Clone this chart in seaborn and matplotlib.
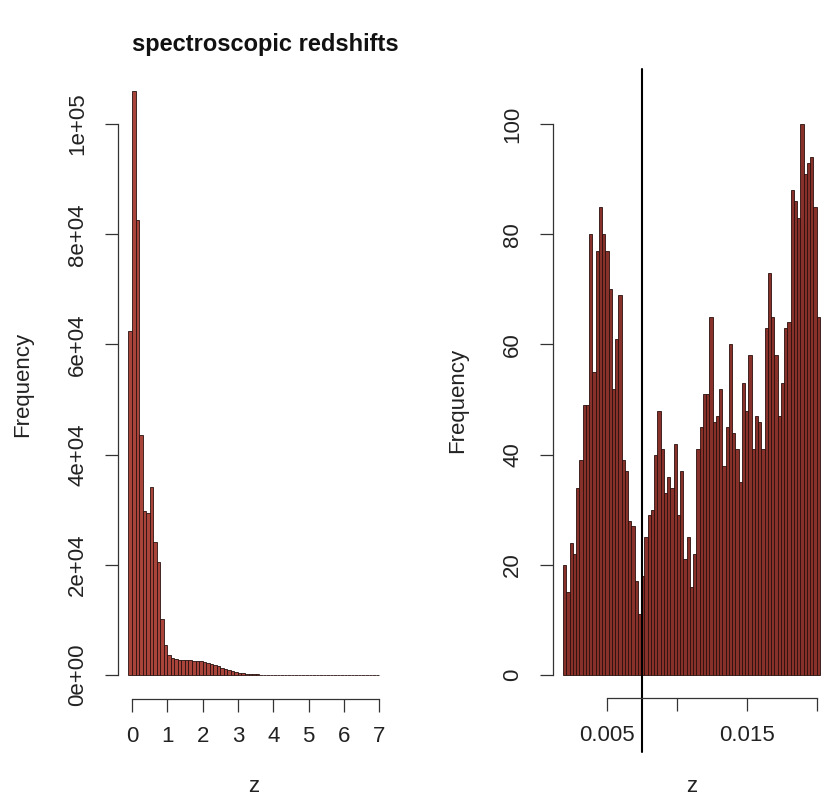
import numpy as np
import pandas as pd
import matplotlib
matplotlib.use("Agg")
import matplotlib.pyplot as plt
import seaborn as sns

# left panel: all spectroscopic redshifts, bins of 0.1 starting at -0.1
left_edges = np.round(np.arange(-0.1, 7.0001, 0.1), 4)
left_counts = [62500, 106000, 82500, 43500, 29800, 29400, 34200, 24200, 20500, 10200,
               5500, 3600, 3100, 2900, 2800, 2800, 2700, 2700, 2600, 2500,
               2500, 2300, 2200, 2000, 1800, 1600, 1300, 1100, 900, 700,
               550, 420, 320, 240, 180, 130, 100, 75, 55, 40,
               30, 22, 17, 13, 10, 8, 6, 5, 4, 3,
               3, 2, 2, 2, 1, 1, 1, 1, 1, 1,
               1, 1, 1, 1, 0, 0, 1, 0, 0, 0, 1]

# right panel: zoom on low redshift
right_edges = np.linspace(0.00186, 0.0202, 80)
right_counts = [20, 15, 24, 22, 34, 39, 49, 49, 80, 55,
                77, 85, 80, 77, 70, 52, 61, 69, 39, 37,
                28, 27, 17, 11, 18, 25, 29, 30, 40, 48,
                41, 33, 36, 34, 42, 29, 37, 21, 25, 16,
                22, 41, 45, 51, 51, 65, 46, 47, 52, 38,
                45, 60, 44, 41, 35, 53, 48, 58, 41, 47,
                46, 41, 63, 73, 65, 58, 47, 53, 63, 64,
                88, 86, 83, 100, 91, 93, 94, 85, 65]
z_cut = 0.0075

left_xticks = [0, 1, 2, 3, 4, 5, 6, 7]
left_yticks = [0, 20000, 40000, 60000, 80000, 100000]
left_ylabels = ["0e+00", "2e+04", "4e+04", "6e+04", "8e+04", "1e+05"]
right_xticks = [0.005, 0.010, 0.015, 0.020]
right_xlabels = ["0.005", "", "0.015", ""]
right_yticks = [0, 20, 40, 60, 80, 100]

sns.set_style("white")
plt.rcParams['font.family'] = ['Liberation Sans', 'DejaVu Sans']

fig = plt.figure(figsize=(8.25, 7.99), dpi=100)
ax1 = fig.add_axes([118/825, 100/799, 271/825, 630/799])
ax2 = fig.add_axes([553/825, 101/799, 277/825, 596/799])

df_left = pd.DataFrame({"z": (left_edges[:-1] + left_edges[1:]) / 2,
                        "n": left_counts})
df_right = pd.DataFrame({"z": (right_edges[:-1] + right_edges[1:]) / 2,
                         "n": right_counts})

sns.histplot(data=df_left, x="z", weights="n", bins=list(left_edges), ax=ax1,
             color="#a9443a", edgecolor="#2a1210", linewidth=0.6, alpha=1)
sns.histplot(data=df_right, x="z", weights="n", bins=list(right_edges), ax=ax2,
             color="#88302a", edgecolor="#2a100d", linewidth=0.6, alpha=1)
ax2.plot([z_cut, z_cut], [-14, 110], color="black", lw=1.5, clip_on=False)

ax1.set_xlim(-0.397, 7.28)
ax1.set_ylim(-4360, 110000)
ax2.set_xlim(0.001143, 0.02093)
ax2.set_ylim(-4.17, 104)

for ax in (ax1, ax2):
    sns.despine(ax=ax)
    for s in ("left", "bottom"):
        ax.spines[s].set_color("#333333")
        ax.spines[s].set_linewidth(0.9)
    ax.tick_params(direction="out", length=9.5, width=0.9, color="#333333",
                   left=True, bottom=True, labelsize=16, labelcolor="#222222")
    ax.tick_params(axis="x", pad=10)
    ax.tick_params(axis="y", pad=12)
    ax.set_xlabel("z", fontsize=16, color="#222222")
    ax.set_ylabel("Frequency", fontsize=16, color="#222222")

ax1.spines["left"].set_bounds(0, 100000)
ax1.spines["bottom"].set_bounds(0, 7)
ax1.set_xticks(left_xticks)
ax1.set_yticks(left_yticks)
ax1.set_yticklabels(left_ylabels, rotation=90, va="center")
ax1.xaxis.set_label_coords(0.5, -0.122)
ax1.yaxis.set_label_coords(-0.314, 0.5)

ax2.spines["left"].set_bounds(0, 100)
ax2.spines["bottom"].set_bounds(0.005, 0.020)
ax2.set_xticks(right_xticks)
ax2.set_xticklabels(right_xlabels)
ax2.set_yticks(right_yticks)
ax2.set_yticklabels([str(v) for v in right_yticks], rotation=90, va="center")
ax2.xaxis.set_label_coords(0.5, -0.131)
ax2.yaxis.set_label_coords(-0.307, 0.5)

fig.text(265/825, 1 - 45/799, "spectroscopic redshifts", ha="center", va="center",
         fontsize=17, fontweight="bold", color="#111111")

fig.savefig("out.png", dpi=100)
